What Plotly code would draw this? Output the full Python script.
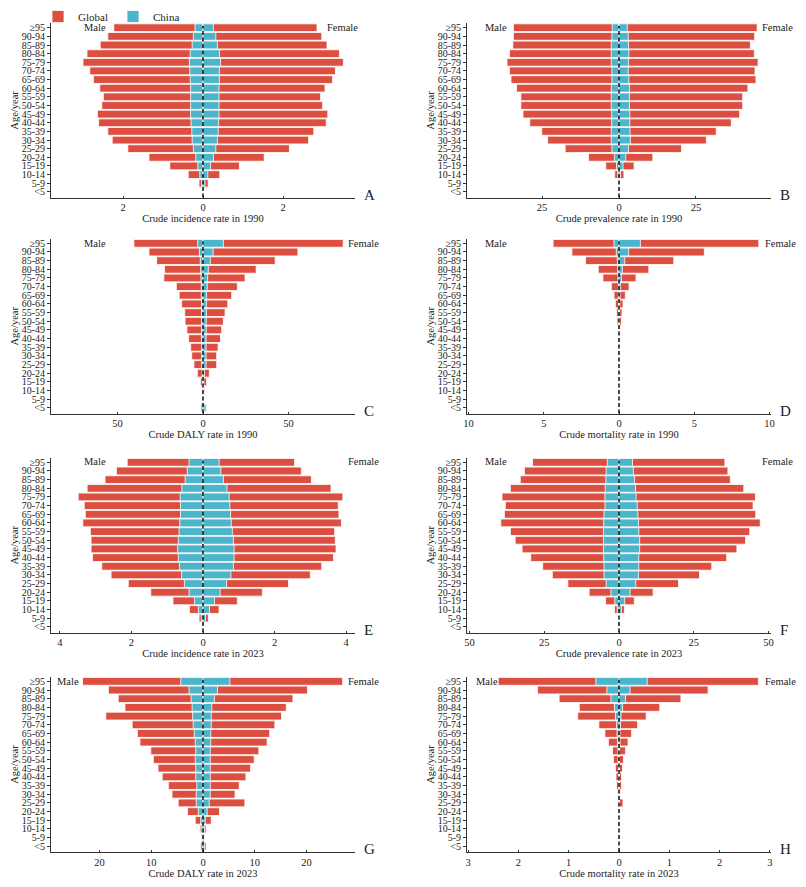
import plotly.graph_objects as go

# age groups, top of each pyramid first
AGES = ["≥95", "90-94", "85-89", "80-84", "75-79", "70-74", "65-69", "60-64", "55-59",
        "50-54", "45-49", "40-44", "35-39", "30-34", "25-29", "20-24", "15-19", "10-14",
        "5-9", "<5"]

# A - crude incidence rate 1990
inc90_male_global = [2.23, 2.38, 2.57, 2.90, 3.00, 2.83, 2.74, 2.58, 2.49, 2.53, 2.64, 2.61, 2.38, 2.27, 1.88, 1.35, 0.83, 0.37, 0.10, 0.0]
inc90_female_global = [2.85, 2.97, 3.10, 3.41, 3.51, 3.31, 3.24, 3.05, 2.94, 2.99, 3.12, 3.08, 2.77, 2.64, 2.16, 1.53, 0.91, 0.42, 0.13, 0.0]
inc90_male_china = [0.20, 0.24, 0.27, 0.32, 0.34, 0.33, 0.32, 0.31, 0.31, 0.31, 0.31, 0.30, 0.28, 0.27, 0.24, 0.18, 0.13, 0.08, 0.04, 0.0]
inc90_female_china = [0.26, 0.32, 0.36, 0.41, 0.44, 0.41, 0.41, 0.40, 0.40, 0.40, 0.40, 0.39, 0.38, 0.36, 0.32, 0.26, 0.19, 0.12, 0.05, 0.0]

# B - crude prevalence rate 1990
prev90_male_global = [34.3, 34.3, 34.5, 35.6, 36.4, 35.6, 35.1, 33.3, 31.9, 31.9, 31.2, 29.0, 25.1, 23.2, 17.5, 9.9, 4.3, 1.4, 0.0, 0.0]
prev90_female_global = [44.9, 44.1, 42.7, 44.0, 45.2, 44.2, 44.5, 41.9, 40.2, 40.2, 39.2, 36.5, 31.6, 28.4, 20.3, 11.0, 4.9, 1.6, 0.0, 0.0]
prev90_male_china = [2.2, 2.3, 2.5, 2.5, 2.5, 2.3, 2.3, 2.5, 2.5, 2.5, 2.4, 2.4, 2.5, 2.5, 2.3, 1.5, 0.8, 0.4, 0.0, 0.0]
prev90_female_china = [2.7, 3.0, 3.1, 3.2, 3.1, 3.0, 3.2, 3.4, 3.4, 3.4, 3.5, 3.5, 3.6, 3.7, 3.1, 2.2, 1.3, 0.5, 0.0, 0.0]

# C - crude DALY rate 1990
daly90_male_global = [40.4, 31.6, 27.1, 22.5, 22.9, 15.6, 13.9, 12.5, 10.7, 10.5, 9.4, 8.4, 7.2, 6.6, 5.3, 3.3, 1.4, 0.6, 0.2, 1.2]
daly90_female_global = [82.0, 55.5, 42.2, 31.1, 24.6, 20.1, 16.8, 14.5, 12.9, 11.9, 10.9, 10.2, 8.8, 8.0, 8.0, 3.7, 2.1, 0.8, 0.4, 2.0]
daly90_male_china = [3.1, 2.1, 1.6, 1.4, 1.2, 1.0, 1.0, 0.9, 0.9, 0.9, 0.9, 0.9, 0.8, 0.8, 0.8, 0.5, 0.3, 0.2, 0.1, 1.2]
daly90_female_china = [11.9, 5.9, 4.3, 3.1, 2.7, 2.5, 2.1, 2.0, 2.0, 1.9, 1.9, 1.8, 1.8, 1.8, 1.8, 0.8, 0.5, 0.3, 0.2, 1.2]

# D - crude mortality rate 1990
mort90_male_global = [4.38, 3.13, 2.22, 1.38, 1.07, 0.51, 0.33, 0.24, 0.16, 0.13, 0.07, 0.04, 0.02, 0.02, 0.01, 0.01, 0.01, 0.0, 0.0, 0.0]
mort90_female_global = [9.29, 5.67, 3.64, 1.98, 1.13, 0.67, 0.42, 0.27, 0.20, 0.16, 0.09, 0.07, 0.04, 0.04, 0.03, 0.01, 0.01, 0.0, 0.0, 0.0]
mort90_male_china = [0.33, 0.18, 0.11, 0.09, 0.07, 0.04, 0.04, 0.03, 0.02, 0.02, 0.01, 0.01, 0.01, 0.01, 0.01, 0.0, 0.0, 0.0, 0.0, 0.0]
mort90_female_china = [1.42, 0.64, 0.38, 0.22, 0.16, 0.09, 0.07, 0.05, 0.04, 0.03, 0.02, 0.02, 0.01, 0.01, 0.01, 0.0, 0.0, 0.0, 0.0, 0.0]

# E - crude incidence rate 2023
inc23_male_global = [2.12, 2.42, 2.74, 3.24, 3.49, 3.32, 3.29, 3.36, 3.15, 3.13, 3.13, 3.09, 2.83, 2.57, 2.09, 1.46, 0.84, 0.38, 0.11, 0.0]
inc23_female_global = [2.56, 2.75, 3.03, 3.58, 3.91, 3.78, 3.80, 3.87, 3.68, 3.70, 3.72, 3.65, 3.32, 3.00, 2.39, 1.66, 0.96, 0.45, 0.15, 0.0]
inc23_male_china = [0.39, 0.44, 0.50, 0.59, 0.64, 0.63, 0.63, 0.65, 0.67, 0.69, 0.71, 0.69, 0.66, 0.60, 0.52, 0.39, 0.24, 0.13, 0.05, 0.0]
inc23_female_china = [0.45, 0.50, 0.57, 0.67, 0.73, 0.75, 0.77, 0.79, 0.82, 0.85, 0.87, 0.87, 0.85, 0.78, 0.66, 0.48, 0.32, 0.18, 0.07, 0.0]

# F - crude prevalence rate 2023
prev23_male_global = [28.9, 31.6, 33.0, 36.3, 39.1, 38.0, 38.3, 39.5, 36.3, 34.7, 32.4, 29.5, 25.5, 22.3, 17.1, 10.0, 4.5, 1.5, 0.0, 0.0]
prev23_female_global = [35.4, 36.4, 37.2, 41.7, 45.6, 44.8, 45.7, 47.2, 43.7, 42.3, 39.4, 36.0, 31.0, 26.9, 19.9, 11.4, 5.1, 1.8, 0.0, 0.0]
prev23_male_china = [3.9, 4.3, 4.4, 4.6, 4.7, 4.7, 5.0, 5.1, 5.2, 5.2, 5.2, 5.1, 5.0, 5.0, 4.3, 2.7, 1.4, 0.6, 0.0, 0.0]
prev23_female_china = [4.5, 4.8, 5.2, 5.5, 5.7, 6.1, 6.3, 6.5, 6.6, 6.9, 6.9, 6.6, 6.6, 6.5, 5.6, 3.7, 1.9, 0.8, 0.0, 0.0]

# G - crude DALY rate 2023
daly23_male_global = [23.3, 18.3, 16.4, 15.1, 18.8, 13.7, 12.7, 12.2, 10.1, 9.6, 8.7, 7.9, 6.7, 6.0, 4.8, 3.0, 1.5, 0.6, 0.3, 0.5]
daly23_female_global = [27.0, 20.2, 17.4, 16.1, 15.2, 13.9, 12.9, 12.4, 10.8, 9.9, 9.2, 8.3, 7.0, 6.2, 8.1, 3.2, 1.6, 0.6, 0.3, 0.6]
daly23_male_china = [4.3, 2.7, 2.3, 2.1, 2.0, 1.9, 1.7, 1.5, 1.4, 1.5, 1.4, 1.4, 1.2, 1.3, 1.3, 0.9, 0.45, 0.4, 0.1, 0.45]
daly23_female_china = [5.2, 2.8, 2.2, 1.7, 1.6, 1.6, 1.5, 1.5, 1.4, 1.4, 1.4, 1.4, 1.4, 1.4, 1.2, 0.8, 0.45, 0.3, 0.2, 0.3]

# H - crude mortality rate 2023
mort23_male_global = [2.40, 1.62, 1.19, 0.79, 0.82, 0.40, 0.28, 0.21, 0.13, 0.11, 0.07, 0.06, 0.05, 0.03, 0.03, 0.01, 0.0, 0.0, 0.0, 0.0]
mort23_female_global = [2.77, 1.77, 1.23, 0.81, 0.54, 0.37, 0.25, 0.18, 0.13, 0.09, 0.07, 0.05, 0.05, 0.03, 0.08, 0.01, 0.0, 0.0, 0.0, 0.0]
mort23_male_china = [0.46, 0.24, 0.16, 0.09, 0.07, 0.05, 0.04, 0.03, 0.02, 0.02, 0.01, 0.01, 0.01, 0.01, 0.01, 0.0, 0.0, 0.0, 0.0, 0.0]
mort23_female_china = [0.56, 0.22, 0.13, 0.07, 0.04, 0.03, 0.02, 0.02, 0.01, 0.01, 0.01, 0.01, 0.01, 0.01, 0.01, 0.0, 0.0, 0.0, 0.0, 0.0]

PANEL_LETTERS = ["A", "B", "C", "D", "E", "F", "G", "H"]
X_TITLES = ["Crude incidence rate in 1990", "Crude prevalence rate in 1990",
            "Crude DALY rate in 1990", "Crude mortality rate in 1990",
            "Crude incidence rate in 2023", "Crude prevalence rate in 2023",
            "Crude DALY rate in 2023", "Crude mortality rate in 2023"]
X_TICKS = [[-2, 0, 2], [-25, 0, 25], [-50, 0, 50], [-10, -5, 0, 5, 10],
           [-4, -2, 0, 2, 4], [-50, -25, 0, 25, 50], [-20, -10, 0, 10, 20], [-3, -2, -1, 0, 1, 2, 3]]

panel_data = [
    (inc90_male_global, inc90_female_global, inc90_male_china, inc90_female_china),
    (prev90_male_global, prev90_female_global, prev90_male_china, prev90_female_china),
    (daly90_male_global, daly90_female_global, daly90_male_china, daly90_female_china),
    (mort90_male_global, mort90_female_global, mort90_male_china, mort90_female_china),
    (inc23_male_global, inc23_female_global, inc23_male_china, inc23_female_china),
    (prev23_male_global, prev23_female_global, prev23_male_china, prev23_female_china),
    (daly23_male_global, daly23_female_global, daly23_male_china, daly23_female_china),
    (mort23_male_global, mort23_female_global, mort23_male_china, mort23_female_china),
]

# layout stuff (pixels in the 806x887 page)
W, H = 806, 887
RED = "#DC4E3F"
BLUE = "#4BB5CB"
FONT = "Liberation Serif, Times New Roman, serif"
AXIS = "#333333"
X_RANGES = [3.8, 49.4, 88.9, 10.1, 4.25, 50.8, 29.4, 3.02]
COL_PX = [(51, 355), (467, 771)]
ROW_PX = [(23.4, 197.5), (239, 413.5), (458, 632.5), (677, 852)]
MALE_X = [95, 496, 95, 496, 95, 496, 68, 487]
FEMALE_X = [342, 777, 363, 780, 363, 777, 363, 780]


def px_x(p):
    return p / W


def px_y(p):
    return 1 - p / H


fig = go.Figure()
layout = dict(
    template="none",
    width=W, height=H,
    margin=dict(l=0, r=0, t=0, b=0, pad=0),
    paper_bgcolor="white", plot_bgcolor="white",
    barmode="overlay", bargap=0.1,
    font=dict(family=FONT, size=10.5, color="#222222"),
    showlegend=True,
    legend=dict(orientation="h", x=px_x(38), y=px_y(2), xanchor="left", yanchor="top",
                font=dict(size=11), itemwidth=30, tracegroupgap=0,
                entrywidth=30, entrywidthmode="pixels",
                bgcolor="rgba(0,0,0,0)", borderwidth=0),
    annotations=[], shapes=[],
)

for i, (mg, fg, mc, fc) in enumerate(panel_data):
    n = i + 1
    sfx = "" if n == 1 else str(n)
    xa, ya = "x" + sfx, "y" + sfx
    row, col = i // 2, i % 2
    series = [
        ("Global", RED, [-v for v in mg], True),
        ("Global", RED, fg, False),
        ("China", BLUE, [-v for v in mc], True),
        ("China", BLUE, fc, False),
    ]
    for name, color, vals, first in series:
        fig.add_trace(go.Bar(
            x=vals, y=AGES, orientation="h", name=name, legendgroup=name,
            showlegend=(i == 0 and first),
            marker=dict(color=color, line=dict(color="white", width=0.8)),
            xaxis=xa, yaxis=ya,
        ))

    x0, x1 = COL_PX[col]
    top, bot = ROW_PX[row]
    r = X_RANGES[i]
    layout["xaxis" + sfx] = dict(
        domain=[px_x(x0), px_x(x1)], anchor=ya, range=[-r, r], automargin=False,
        tickmode="array", tickvals=X_TICKS[i], ticktext=[str(abs(t)) for t in X_TICKS[i]],
        ticks="inside", ticklen=2, tickcolor=AXIS,
        showline=True, linecolor=AXIS, linewidth=1,
        showgrid=False, zeroline=False, fixedrange=True,
        tickfont=dict(size=10.5),
        title=dict(text=X_TITLES[i], font=dict(size=10.5), standoff=2),
    )
    layout["yaxis" + sfx] = dict(
        domain=[px_y(bot), px_y(top)], anchor=xa, automargin=False,
        type="category", categoryorder="array", categoryarray=AGES,
        tickmode="array", tickvals=AGES, ticktext=AGES,
        range=[len(AGES) - 0.35, -0.5],
        ticks="outside", ticklen=3, tickcolor=AXIS,
        showline=True, linecolor=AXIS, linewidth=1,
        showgrid=False, zeroline=False, fixedrange=True,
        tickfont=dict(size=10),
        title=dict(text="Age/year", font=dict(size=10.5), standoff=0),
    )
    # dashed centre line
    layout["shapes"].append(dict(
        type="line", xref=xa, yref=ya + " domain", x0=0, x1=0, y0=0, y1=0.985,
        line=dict(color="black", width=1.4, dash="4px,2.5px"), layer="above",
    ))
    # Male / Female labels
    label_y = px_y(top + 4)
    layout["annotations"].append(dict(
        text="Male", xref="paper", yref="paper", x=px_x(MALE_X[i]), y=label_y,
        xanchor="center", yanchor="middle", showarrow=False, font=dict(size=10.5)))
    layout["annotations"].append(dict(
        text="Female", xref="paper", yref="paper", x=px_x(FEMALE_X[i]), y=label_y,
        xanchor="center", yanchor="middle", showarrow=False, font=dict(size=10.5)))
    # panel letter
    layout["annotations"].append(dict(
        text=PANEL_LETTERS[i], xref="paper", yref="paper", x=px_x(x1 + 7), y=px_y(bot - 3),
        xanchor="left", yanchor="middle", showarrow=False, font=dict(size=15)))

fig.update_layout(**layout)
# page body has a default 8px margin; drop it so the figure sits at 0,0
fig.write_html("out.html", config={"displayModeBar": False},
               post_script="document.body.style.margin='0';")
